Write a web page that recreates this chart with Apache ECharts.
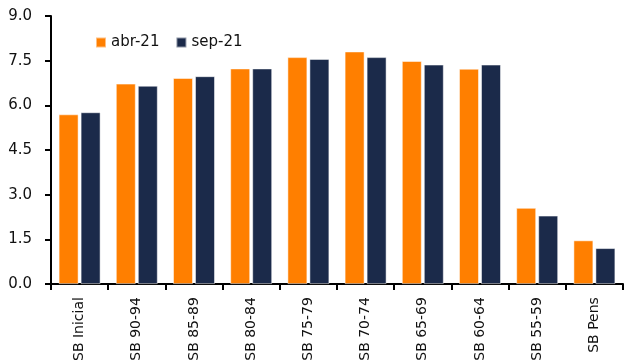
<!DOCTYPE html>
<html>
<head>
<meta charset="utf-8">
<script src="https://cdn.jsdelivr.net/npm/echarts@6/dist/echarts.min.js"></script>
<style>html,body{margin:0;padding:0;background:#fff}#c{width:624px;height:364px}</style>
</head>
<body>
<div id="c"></div>
<script>
var categories = ['SB Inicial','SB 90-94','SB 85-89','SB 80-84','SB 75-79','SB 70-74','SB 65-69','SB 60-64','SB 55-59','SB Pens'];
var seriesNames = ['abr-21','sep-21'];
var abr21 = [5.70, 6.73, 6.92, 7.24, 7.62, 7.81, 7.49, 7.23, 2.56, 1.47];
var sep21 = [5.77, 6.66, 6.98, 7.24, 7.56, 7.62, 7.37, 7.37, 2.30, 1.21];
var yTicks = {min: 0, max: 9, interval: 1.5};

var font = 'DejaVu Sans';
var chart = echarts.init(document.getElementById('c'), null, {renderer: 'canvas'});
chart.setOption({
  animation: false,
  backgroundColor: '#fff',
  grid: {left: 51, right: 1, top: 16, bottom: 75, containLabel: false},
  legend: {
    left: 90, top: 30, itemWidth: 10, itemHeight: 10, itemGap: 16,
    icon: 'rect',
    textStyle: {fontFamily: font, fontSize: 15, color: '#111'},
    data: seriesNames
  },
  xAxis: {
    type: 'category', data: categories,
    axisLine: {lineStyle: {color: '#000', width: 2}},
    axisTick: {show: true, length: 6, lineStyle: {color: '#000', width: 2}, alignWithLabel: false},
    axisLabel: {rotate: 90, margin: 13, interval: 0, fontFamily: font, fontSize: 14, color: '#111'}
  },
  yAxis: {
    type: 'value', min: yTicks.min, max: yTicks.max, interval: yTicks.interval,
    splitLine: {show: false},
    axisLine: {show: true, lineStyle: {color: '#000', width: 2}},
    axisTick: {show: true, length: 6, lineStyle: {color: '#000', width: 2}},
    axisLabel: {margin: 19, fontFamily: font, fontSize: 15, color: '#111',
      formatter: function(v){ return v.toFixed(1); }}
  },
  series: [
    {name: seriesNames[0], type: 'bar', data: abr21, barWidth: 20, barGap: '10%',
     itemStyle: {color: '#FF7F00', borderColor: 'rgba(255,255,255,0.5)', borderWidth: 1}},
    {name: seriesNames[1], type: 'bar', data: sep21, barWidth: 20, barGap: '10%',
     itemStyle: {color: '#1B2A4A', borderColor: 'rgba(255,255,255,0.5)', borderWidth: 1}}
  ]
});
</script>
</body>
</html>
